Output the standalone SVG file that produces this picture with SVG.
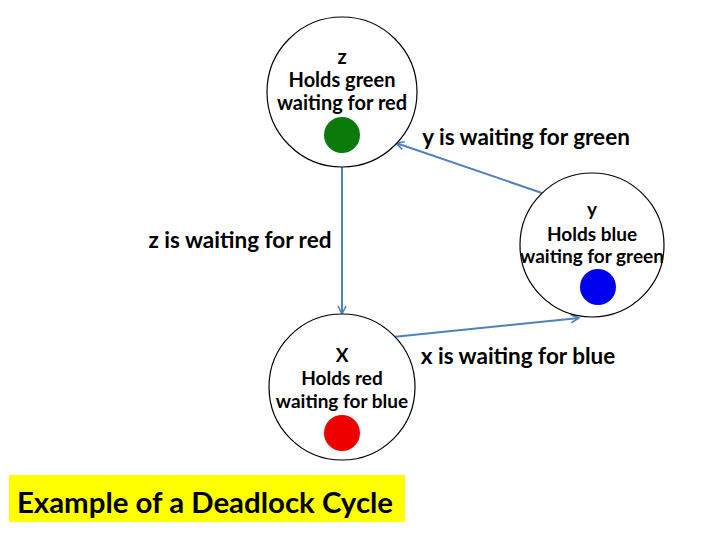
<svg xmlns="http://www.w3.org/2000/svg" width="720" height="540" viewBox="0 0 720 540">
<style>
.node{fill:#fff;stroke:#000;stroke-width:1.2}
.t{font-family:Lato,"Open Sans","Liberation Sans",sans-serif;font-weight:bold;fill:#000;text-anchor:middle}
.nt{font-size:19px}
.nz{font-size:20px}
.et{font-size:22.5px}
.edge{stroke:#4f81bd;stroke-width:2;fill:none;marker-end:url(#ah)}
</style>
<defs>
<marker id="ah" viewBox="0 0 10 10" refX="9" refY="5" markerWidth="5" markerHeight="5" orient="auto" markerUnits="strokeWidth">
<path d="M1,1 L9,5 L1,9" fill="none" stroke="#4f81bd" stroke-width="1.6"/>
</marker>
</defs>
<rect width="720" height="540" fill="#fff"/>
<g id="connectors">
<line class="edge" x1="342" y1="167" x2="342" y2="314"/>
<line class="edge" x1="542" y1="193" x2="396" y2="143"/>
<line class="edge" x1="393" y1="337" x2="579" y2="318"/>
</g>
<g id="edge-labels">
<text class="t et" x="526" y="145">y is waiting for green</text>
<text class="t et" x="240" y="248">z is waiting for red</text>
<text class="t et" x="518" y="364">x is waiting for blue</text>
</g>
<g id="node-z">
<circle class="node" cx="342" cy="92" r="75"/>
<text class="t nz" x="342" y="64">z</text>
<text class="t nz" x="342" y="87">Holds green</text>
<text class="t nz" x="342" y="110">waiting for red</text>
<circle cx="342" cy="135" r="18" fill="#0a7a0a"/>
</g>
<g id="node-y">
<circle class="node" cx="592" cy="245" r="72"/>
<text class="t nt" x="592" y="216">y</text>
<text class="t nt" x="592" y="241">Holds blue</text>
<text class="t nt" x="592" y="263">waiting for green</text>
<circle cx="598" cy="287" r="18" fill="#0000ee"/>
</g>
<g id="node-x">
<circle class="node" cx="342" cy="387" r="73"/>
<text class="t nt" x="342" y="362">X</text>
<text class="t nt" x="342" y="385">Holds red</text>
<text class="t nt" x="342" y="408">waiting for blue</text>
<circle cx="342" cy="433" r="18" fill="#ee0000"/>
</g>
<g id="caption">
<rect x="9" y="475" width="396" height="47" fill="#ffff00"/>
<text class="t" x="205" y="513" style="font-size:29.4px">Example of a Deadlock Cycle</text>
</g>
</svg>
